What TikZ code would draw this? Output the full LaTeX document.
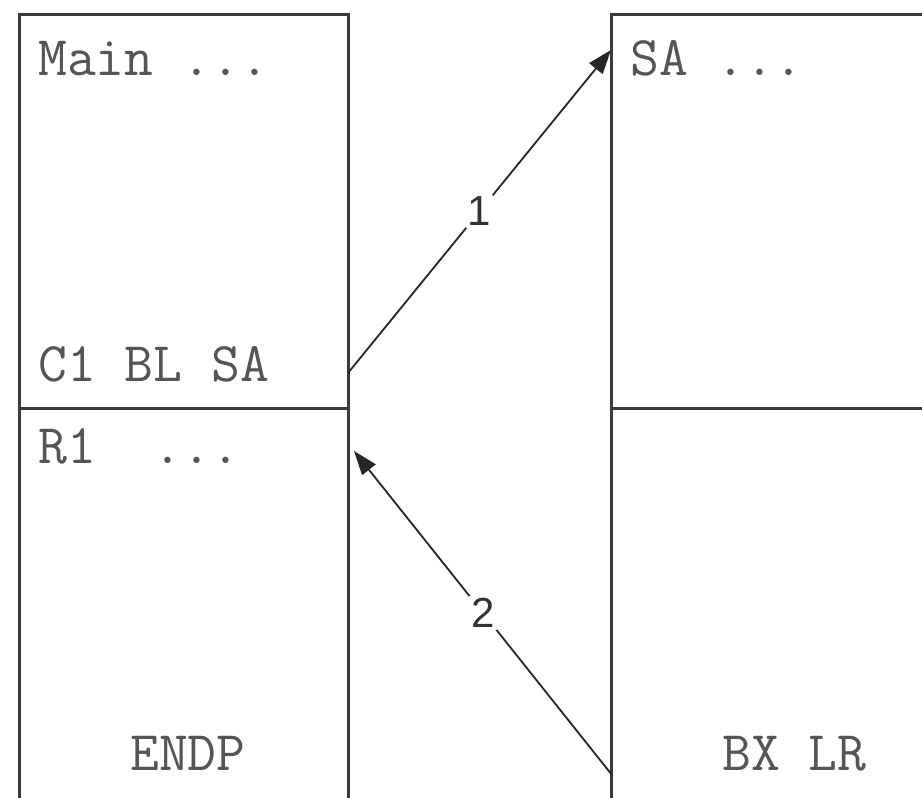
\documentclass[tikz,border=0pt]{standalone}
\usepackage{fontspec}
\usetikzlibrary{arrows.meta}
\newfontfamily\labf{Liberation Sans}
\definecolor{linec}{HTML}{3A3A3A}
\definecolor{textc}{HTML}{555555}
\tikzset{
  box/.style={draw=linec, line width=3pt, fill=white, rectangle, inner sep=0pt, outer sep=0pt, anchor=north west},
  mono/.style={font=\ttfamily\fontsize{56}{60}\selectfont, text=textc, inner sep=0pt, anchor=base west},
  conn/.style={draw=black!85, line width=1.8pt, -{Triangle[length=24pt,width=17pt]}},
  lab/.style={font=\labf\fontsize{42}{46}\selectfont, text=black!80, fill=white, inner sep=2pt}
}
\begin{document}
\begin{tikzpicture}[x=1pt,y=-1pt]
\useasboundingbox (0,0) rectangle (922,798);
\fill[white] (0,0) rectangle (922,798);
\begin{scope}
\clip (0,0) rectangle (922,798);
\node[box, minimum width=329pt, minimum height=394pt] (lt) at (19,14) {};
\node[box, minimum width=329pt, minimum height=420pt] (lb) at (19,408) {};
\node[box, minimum width=340pt, minimum height=394pt] (rt) at (611,14) {};
\node[box, minimum width=340pt, minimum height=420pt] (rb) at (611,408) {};
\end{scope}
\node[mono] (t1) at (38,75) {Main ...};
\node[mono] (t2) at (38,381) {C1 BL SA};
\node[mono] (t3) at (38,463) {R1\ \ ...};
\node[mono] (t4) at (130,770) {ENDP};
\node[mono] (t5) at (630,75) {SA ...};
\node[mono] (t6) at (722,770) {BX LR};
\coordinate (a1s) at (348,373);
\coordinate (a1e) at (611,50);
\coordinate (a2s) at (612,775);
\coordinate (a2e) at (354,451);
\draw[conn] (a1s) -- node[lab, pos=0.5] (l1) {1} (a1e);
\draw[conn] (a2s) -- node[lab, pos=0.5] (l2) {2} (a2e);
\end{tikzpicture}
\end{document}
